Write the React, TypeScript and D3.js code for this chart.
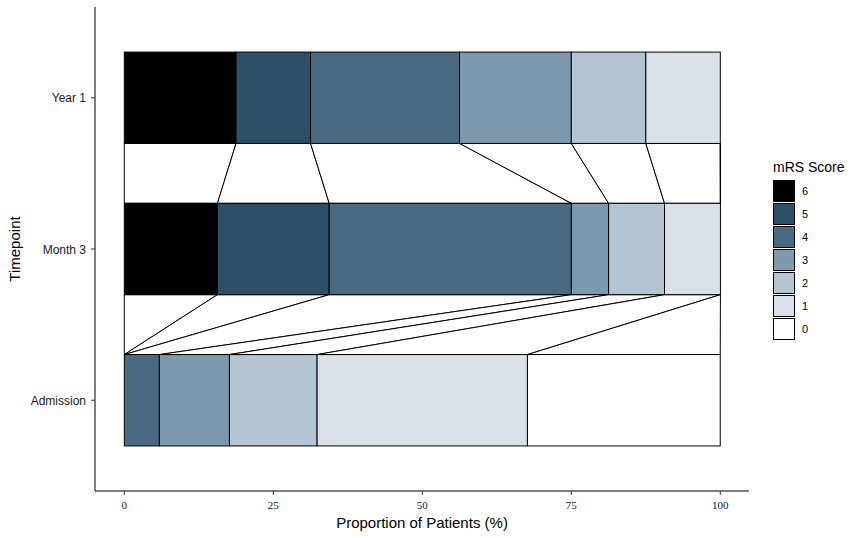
import React from "react";
import * as d3 from "d3";

const timepoints = ["Admission", "Month 3", "Year 1"];
const scores = ["6", "5", "4", "3", "2", "1", "0"];
// proportions (%) per timepoint, ordered by score 6..0
const admission = [0, 0, 5.88, 11.76, 14.71, 35.29, 32.35];
const month3 = [15.63, 18.75, 40.63, 6.25, 9.38, 9.38, 0];
const year1 = [18.75, 12.5, 25.0, 18.75, 12.5, 12.5, 0];
const xTicks = [0, 25, 50, 75, 100];
const colors = ["#000000", "#2a4f66", "#4a6a82", "#7e98ad", "#b3c4d2", "#d9e0e7", "#ffffff"];

const W = 864;
const H = 538;
const panel = { left: 95, right: 749, top: 7, bottom: 491 };

export default function App() {
  const series = [admission, month3, year1];
  const x = d3.scaleLinear().domain([0, 100]).range([124.3, 720.3]);
  const y = d3.scaleLinear().domain([0.4, 3.6]).range([panel.bottom, panel.top]);
  const half = 0.302;
  const stacks = series.map((vals) => {
    const cum: number[] = [0];
    vals.forEach((v) => cum.push(cum[cum.length - 1] + v));
    return cum;
  });
  const color = d3.scaleOrdinal<string, string>().domain(scores).range(colors);

  const flows: React.ReactNode[] = [];
  for (let t = 0; t < timepoints.length - 1; t++) {
    const lo = stacks[t];
    const hi = stacks[t + 1];
    const yLo = y(t + 1 + half);
    const yHi = y(t + 2 - half);
    scores.forEach((s, k) => {
      const pts = [
        [x(lo[k]), yLo],
        [x(lo[k + 1]), yLo],
        [x(hi[k + 1]), yHi],
        [x(hi[k]), yHi],
      ];
      flows.push(
        <polygon
          key={`f${t}-${k}`}
          points={pts.map((p) => p.join(",")).join(" ")}
          fill="#ffffff"
          stroke="#000"
          strokeWidth={1}
        />
      );
    });
  }

  const bars: React.ReactNode[] = [];
  stacks.forEach((cum, t) => {
    scores.forEach((s, k) => {
      const v = series[t][k];
      if (v <= 0) return;
      const y0 = y(t + 1 + half);
      const y1 = y(t + 1 - half);
      bars.push(
        <rect
          key={`b${t}-${k}`}
          x={x(cum[k])}
          y={y0}
          width={x(cum[k + 1]) - x(cum[k])}
          height={y1 - y0}
          fill={color(s)}
          stroke="#000"
          strokeWidth={1}
        />
      );
    });
  });

  return (
    <svg width={W} height={H} style={{ position: "absolute", left: 0, top: 0 }}>
      <rect width={W} height={H} fill="#fff" />
      {flows}
      {bars}
      {/* axes */}
      <line x1={panel.left} x2={panel.left} y1={panel.top} y2={panel.bottom} stroke="#000" strokeWidth={1} />
      <line x1={panel.left} x2={panel.right} y1={panel.bottom} y2={panel.bottom} stroke="#000" strokeWidth={1} />
      {xTicks.map((t) => (
        <g key={`xt${t}`}>
          <line x1={x(t)} x2={x(t)} y1={panel.bottom} y2={panel.bottom + 4} stroke="#333" />
          <text
            x={x(t)}
            y={509}
            textAnchor="middle"
            fontFamily="'Liberation Serif', serif"
            fontSize={11}
            fill="#14143c"
          >
            {t}
          </text>
        </g>
      ))}
      {timepoints.map((tp, i) => (
        <g key={`yt${tp}`}>
          <line x1={panel.left - 4} x2={panel.left} y1={y(i + 1)} y2={y(i + 1)} stroke="#333" />
          <text
            x={panel.left - 9}
            y={y(i + 1) + 4.5}
            textAnchor="end"
            fontFamily="'Liberation Sans', Arial, sans-serif"
            fontSize={12}
            fill="#1a1a1a"
          >
            {tp}
          </text>
        </g>
      ))}
      <text
        x={(panel.left + panel.right) / 2}
        y={528}
        textAnchor="middle"
        fontFamily="'Liberation Sans', Arial, sans-serif"
        fontSize={15}
        fill="#000"
      >
        Proportion of Patients (%)
      </text>
      <text
        transform={`translate(20,${(panel.top + panel.bottom) / 2}) rotate(-90)`}
        textAnchor="middle"
        fontFamily="'Liberation Sans', Arial, sans-serif"
        fontSize={15}
        fill="#000"
      >
        Timepoint
      </text>
      {/* legend */}
      <text x={773} y={172} fontFamily="'Liberation Sans', Arial, sans-serif" fontSize={14} fill="#000">
        mRS Score
      </text>
      {scores.map((s, k) => (
        <g key={`lg${s}`}>
          <rect x={773.5} y={180.5 + k * 23} width={21} height={21} fill={color(s)} stroke="#000" strokeWidth={1} />
          <text
            x={802}
            y={195 + k * 23}
            fontFamily="'Liberation Sans', Arial, sans-serif"
            fontSize={11}
            fill="#000"
          >
            {s}
          </text>
        </g>
      ))}
    </svg>
  );
}
